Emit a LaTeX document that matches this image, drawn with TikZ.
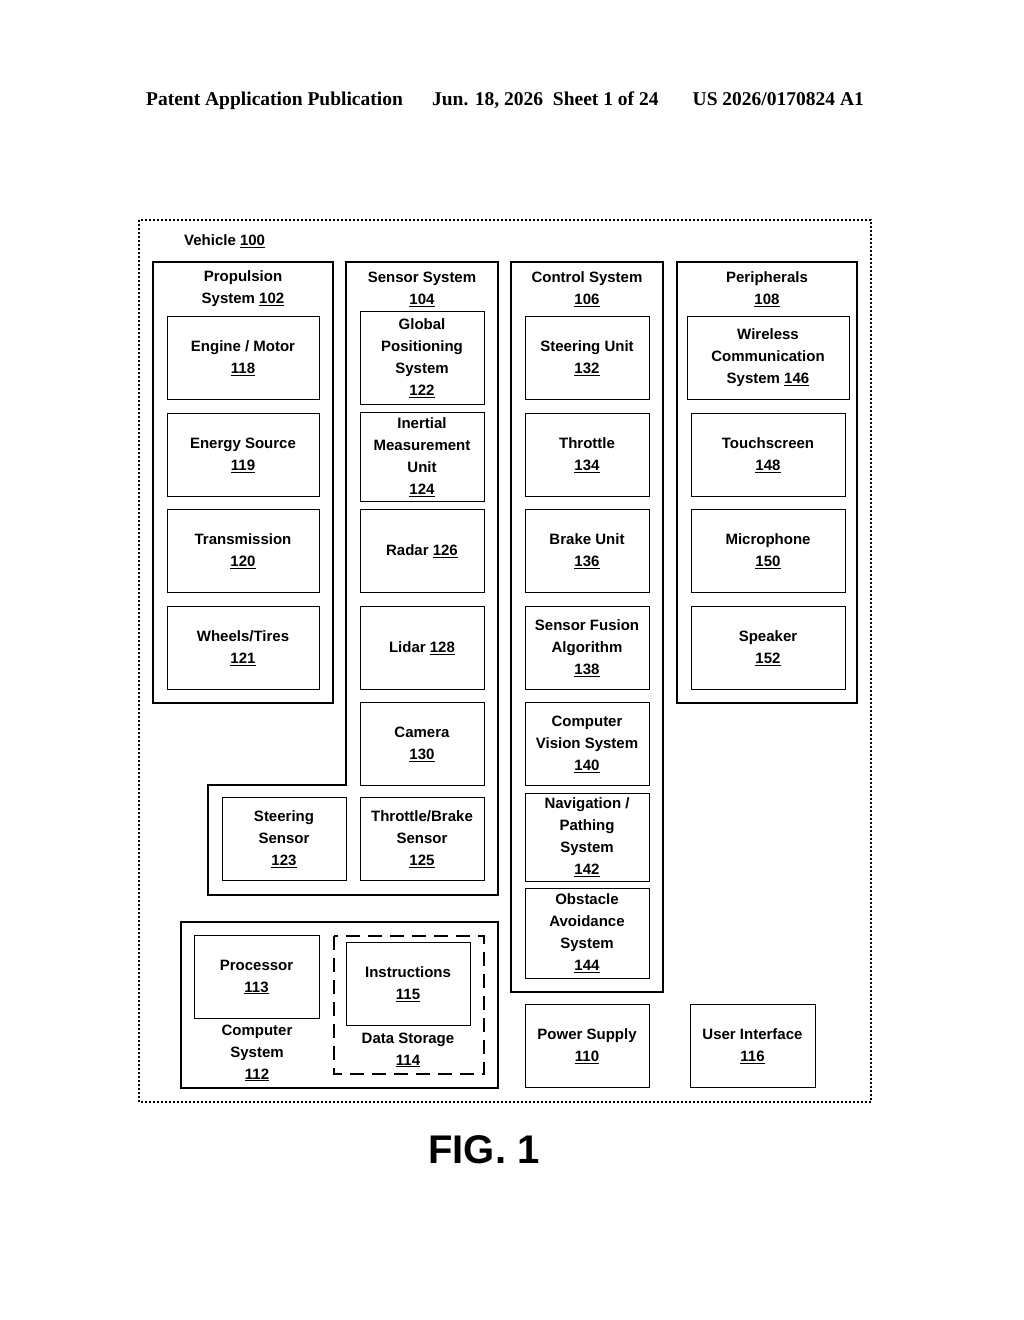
\documentclass[tikz,border=0pt]{standalone}
\usepackage{fontspec}
\setmainfont{Liberation Sans}
\newfontfamily\hdfont{Liberation Serif}
\newcommand\num[1]{\underline{#1}}
\begin{document}
\begin{tikzpicture}[x=1pt,y=-1pt,
    every node/.style={font=\fontsize{15}{22}\selectfont\bfseries,align=center},
    group/.style={draw,line width=2.6pt},
    unit/.style={draw,line width=1pt,inner sep=0pt},
    title/.style={inner sep=0pt}]
  \useasboundingbox (0,0) rectangle (1024,1320);

  % Header
  \node[font=\fontsize{19.5}{22}\selectfont\bfseries\hdfont] (hd) at (505,101)
    {Patent Application Publication\quad\ \ Jun. 18, 2026\ \ Sheet 1 of 24\quad\ \ \ US 2026/0170824 A1};

  % Vehicle outline
  \draw[line width=2pt,dotted] (139,220) rectangle (871,1102);
  \node[title,anchor=west] (veh) at (184,241) {Vehicle \num{100}};

  % Propulsion system
  \draw[group] (153,262) rectangle (333,703);
  \node[title] (prop) at (243,289) {Propulsion\\System \num{102}};
  \foreach \name/\yc/\txt in {eng/358/{Engine / Motor\\\num{118}},
                              src/455/{Energy Source\\\num{119}},
                              trn/551/{Transmission\\\num{120}},
                              whl/648/{Wheels/Tires\\\num{121}}}
    \node[unit,minimum width=152,minimum height=83] (\name) at (243,\yc) {\txt};

  % Sensor system
  \draw[group] (346,262) -- (498,262) -- (498,895) -- (208,895) -- (208,785)
    -- (346,785) -- cycle;
  \node[title] (sens) at (422,289) {Sensor System\\\num{104}};
  \foreach \name/\yc/\hh/\txt in {gps/358/93/{Global\\Positioning\\System\\\num{122}},
                                  imu/457/89/{Inertial\\Measurement\\Unit\\\num{124}},
                                  rad/551/83/{Radar \num{126}},
                                  lid/648/83/{Lidar \num{128}},
                                  cam/744/83/{Camera\\\num{130}},
                                  tbs/839/83/{Throttle/Brake\\Sensor\\\num{125}}}
    \node[unit,minimum width=124,minimum height=\hh] (\name) at (422,\yc) {\txt};
  \node[unit,minimum width=124,minimum height=83] (sts) at (284,839) {Steering\\Sensor\\\num{123}};

  % Control system
  \draw[group] (511,262) rectangle (663,992);
  \node[title] (ctl) at (587,289) {Control System\\\num{106}};
  \foreach \name/\yc/\hh/\txt in {stu/358/83/{Steering Unit\\\num{132}},
                                  thr/455/83/{Throttle\\\num{134}},
                                  brk/551/83/{Brake Unit\\\num{136}},
                                  sfa/648/83/{Sensor Fusion\\Algorithm\\\num{138}},
                                  cvs/744/83/{Computer\\Vision System\\\num{140}},
                                  nav/837/88/{Navigation /\\Pathing\\System\\\num{142}},
                                  obs/933/90/{Obstacle\\Avoidance\\System\\\num{144}}}
    \node[unit,minimum width=124,minimum height=\hh] (\name) at (587,\yc) {\txt};

  % Peripherals
  \draw[group] (677,262) rectangle (857,703);
  \node[title] (per) at (767,289) {Peripherals\\\num{108}};
  \node[unit,minimum width=162,minimum height=83] (wcs) at (768,358)
    {Wireless\\Communication\\System \num{146}};
  \foreach \name/\yc/\txt in {tch/455/{Touchscreen\\\num{148}},
                              mic/551/{Microphone\\\num{150}},
                              spk/648/{Speaker\\\num{152}}}
    \node[unit,minimum width=154,minimum height=83] (\name) at (768,\yc) {\txt};

  % Computer system
  \draw[group] (181,922) rectangle (498,1088);
  \node[unit,minimum width=125,minimum height=83] (proc) at (256.5,977) {Processor\\\num{113}};
  \node[title] (cmp) at (257,1053) {Computer\\System\\\num{112}};
  \draw[line width=2.2pt,dash pattern=on 14pt off 8pt] (334,936) rectangle (484,1074);
  \node[unit,minimum width=124,minimum height=83] (ins) at (408,984) {Instructions\\\num{115}};
  \node[title] (dst) at (408,1050) {Data Storage\\\num{114}};

  % Power supply and user interface
  \node[unit,minimum width=124,minimum height=83] (pwr) at (587,1046) {Power Supply\\\num{110}};
  \node[unit,minimum width=125,minimum height=83] (ui) at (752.5,1046) {User Interface\\\num{116}};

  \node[font=\fontsize{40}{44}\selectfont\bfseries] (fig) at (484,1150) {FIG. 1};
\end{tikzpicture}
\end{document}
